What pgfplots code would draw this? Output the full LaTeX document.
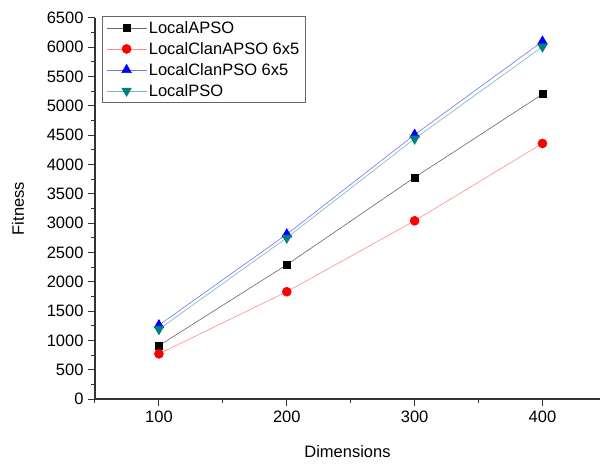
\documentclass[border=0pt]{standalone}
\usepackage{pgfplots}
\pgfplotsset{compat=1.18}
\usepackage{fontspec}
\setmainfont{Liberation Sans}

\definecolor{pso}{RGB}{0,128,128}

\begin{document}
\begin{tikzpicture}[x=1bp,y=1bp]
\useasboundingbox (-95bp,-66bp) rectangle (505bp,18bp+381bp);
\begin{axis}[
  at={(0,0)}, anchor=south west,
  scale only axis,
  width=505bp, height=381bp,
  xmin=50, xmax=445,
  ymin=0, ymax=6500,
  axis lines*=left,
  axis line style={line width=1.1bp, color=black!80},
  xtick={100,200,300,400},
  minor xtick={50,150,250,350},
  ytick={0,500,...,6500},
  minor ytick={250,750,...,6250},
  tick align=outside,
  major tick length=7bp,
  minor tick length=4bp,
  tick style={line width=1bp, color=black!80},
  every tick label/.append style={font=\fontsize{16.5bp}{19bp}\selectfont},
  /pgf/number format/assume math mode=true,
  /pgf/number format/1000 sep={},
  xticklabel style={yshift=-1bp},
  yticklabel style={xshift=-1bp},
  xlabel={Dimensions},
  ylabel={Fitness},
  every axis x label/.style={at={(axis description cs:0.5,0)}, anchor=center, yshift=-53bp,
    font=\fontsize{16.5bp}{19bp}\selectfont},
  every axis y label/.style={at={(axis description cs:0,0.5)}, rotate=90, anchor=center, yshift=77bp,
    font=\fontsize{16.5bp}{19bp}\selectfont},
  legend style={
    at={(7bp,383bp)}, anchor=north west,
    draw=black!60, line width=0.6bp,
    font=\fontsize{16.5bp}{19bp}\selectfont,
    row sep=3.5bp, inner xsep=4bp, inner ysep=3bp,
    cells={anchor=west},
  },
  legend cell align=left,
  legend image code/.code={
    \draw[#1, mark repeat=2, mark phase=2] plot coordinates {(0bp,0bp) (20bp,0bp) (40bp,0bp)};
  },
]
\addplot[black!60, line width=0.6bp, mark=square*, mark size=3.6bp,
  mark options={black, draw=black, solid}]
  coordinates {(100,910) (200,2290) (300,3780) (400,5200)};
\addlegendentry{LocalAPSO}

\addplot[red!45, line width=0.6bp, mark=*, mark size=4.5bp,
  mark options={red, draw=red, solid}]
  coordinates {(100,770) (200,1830) (300,3040) (400,4360)};
\addlegendentry{LocalClanAPSO 6x5}

\addplot[blue!55, line width=0.6bp, mark=triangle*, mark size=5.5bp,
  mark options={blue, draw=blue, solid}]
  coordinates {(100,1260) (200,2810) (300,4510) (400,6100)};
\addlegendentry{LocalClanPSO 6x5}

\addplot[pso!55, line width=0.6bp, mark=triangle*, mark size=5.5bp,
  mark options={pso, draw=pso, solid, rotate=180}]
  coordinates {(100,1190) (200,2750) (300,4440) (400,6010)};
\addlegendentry{LocalPSO}
\end{axis}
\end{tikzpicture}
\end{document}
